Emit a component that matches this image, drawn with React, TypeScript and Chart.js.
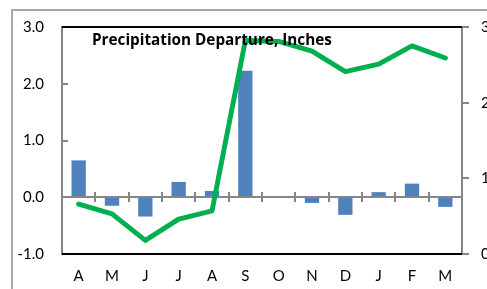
import React, { useEffect, useRef } from "react";
import { Chart, registerables } from "chart.js";

Chart.register(...registerables);

const months = ["A", "M", "J", "J", "A", "S", "O", "N", "D", "J", "F", "M"];
const departure = [0.65, -0.15, -0.34, 0.27, 0.11, 2.23, -0.01, -0.1, -0.31, 0.09, 0.24, -0.17];
const rightSeries = [0.66, 0.53, 0.18, 0.46, 0.57, 2.82, 2.81, 2.68, 2.41, 2.51, 2.75, 2.59];
const leftMin = -1;
const leftMax = 3;
const rightMin = 0;
const rightMax = 3;
const titleText = "Precipitation Departure, Inches";

const FONT = "Lato";
const TITLE_FONT = "'Open Sans'";
const W = 520;
const H = 300;
const AXIS_GRAY = "#868686";

const decor = {
  id: "decor",
  beforeDraw(chart: any) {
    const ctx = chart.ctx;
    ctx.save();
    ctx.strokeStyle = "#a6a6a6";
    ctx.lineWidth = 2;
    ctx.strokeRect(12, 10, W, H);
    ctx.restore();
  },
  afterDatasetDraw(chart: any, args: any) {
    if (args.meta.type !== "bar") return;
    const ctx = chart.ctx;
    const ca = chart.chartArea;
    const y = chart.scales.y;
    const x = chart.scales.x;
    const y0 = Math.round(y.getPixelForValue(0));
    ctx.save();
    ctx.strokeStyle = AXIS_GRAY;
    ctx.lineWidth = 2;
    ctx.beginPath();
    ctx.moveTo(ca.left, y0);
    ctx.lineTo(ca.right, y0);
    for (let i = 1; i < months.length; i++) {
      const px = Math.round((x.getPixelForValue(i - 1) + x.getPixelForValue(i)) / 2);
      ctx.moveTo(px, y0 - 5);
      ctx.lineTo(px, y0 + 5);
    }
    for (let v = leftMin; v <= leftMax; v++) {
      const py = Math.round(y.getPixelForValue(v));
      ctx.moveTo(ca.left, py);
      ctx.lineTo(ca.left + 6, py);
    }
    ctx.stroke();
    ctx.restore();
  },
  afterDraw(chart: any) {
    const ctx = chart.ctx;
    const ca = chart.chartArea;
    ctx.save();
    ctx.strokeStyle = "#000000";
    ctx.lineWidth = 2;
    ctx.beginPath();
    ctx.moveTo(ca.left, ca.top);
    ctx.lineTo(ca.right, ca.top);
    ctx.moveTo(ca.left, ca.bottom);
    ctx.lineTo(ca.right, ca.bottom);
    ctx.stroke();
    ctx.fillStyle = "#000";
    ctx.font = `bold 15px ${TITLE_FONT}`;
    const w = ctx.measureText(titleText).width;
    const size = Math.max(10, Math.min(20, (15 * 240) / w));
    ctx.font = `bold ${size.toFixed(2)}px ${TITLE_FONT}`;
    ctx.textBaseline = "alphabetic";
    ctx.textAlign = "left";
    ctx.fillText(titleText, 92, 45);
    ctx.restore();
  },
};

export default function App() {
  const ref = useRef<HTMLCanvasElement>(null);
  useEffect(() => {
    const canvas = ref.current;
    if (!canvas) return;
    const chart = new Chart(canvas, {
      type: "bar",
      data: {
        labels: months,
        datasets: [
          {
            type: "line",
            data: rightSeries,
            yAxisID: "y1",
            borderColor: "#00b050",
            borderWidth: 5,
            pointRadius: 0,
            tension: 0,
            borderCapStyle: "round",
            borderJoinStyle: "round",
            order: 0,
          } as any,
          {
            type: "bar",
            data: departure,
            yAxisID: "y",
            backgroundColor: "#4f81bd",
            barPercentage: 0.43,
            categoryPercentage: 1,
            order: 1,
          },
        ],
      },
      options: {
        responsive: false,
        animation: false,
        devicePixelRatio: 1,
        layout: { padding: 0 },
        plugins: { legend: { display: false }, tooltip: { enabled: false }, title: { display: false } },
        scales: {
          x: {
            type: "category",
            grid: { display: false, drawTicks: false },
            border: { display: false },
            ticks: { color: "#000", font: { family: FONT, size: 15 }, padding: 13, maxRotation: 0, autoSkip: false },
            afterFit: (s: any) => { s.height = H - 254; },
          },
          y: {
            position: "left",
            min: leftMin,
            max: leftMax,
            grid: { display: false, drawTicks: false },
            border: { display: true, color: AXIS_GRAY, width: 2 },
            ticks: {
              stepSize: 1,
              color: "#000",
              font: { family: FONT, size: 15 },
              padding: 18,
              callback: (v: any) => Number(v).toFixed(1),
            },
            afterFit: (s: any) => { s.width = 62; },
          },
          y1: {
            position: "right",
            min: rightMin,
            max: rightMax,
            grid: { display: true, drawOnChartArea: false, drawTicks: true, tickLength: 7, color: AXIS_GRAY, lineWidth: 2 },
            border: { display: true, color: AXIS_GRAY, width: 2 },
            ticks: {
              stepSize: 1,
              color: "#000",
              font: { family: FONT, size: 15 },
              padding: 12,
              callback: (v: any) => Number(v).toFixed(1),
            },
            afterFit: (s: any) => { s.width = W - 462; },
          },
        },
      },
      plugins: [decor],
    } as any);
    return () => chart.destroy();
  }, []);
  return (
    <div style={{ position: "fixed", left: 0, top: 0, width: 487, height: 289, overflow: "hidden", background: "#fff" }}>
      <canvas ref={ref} width={W} height={H} style={{ display: "block", width: W, height: H }} />
    </div>
  );
}
